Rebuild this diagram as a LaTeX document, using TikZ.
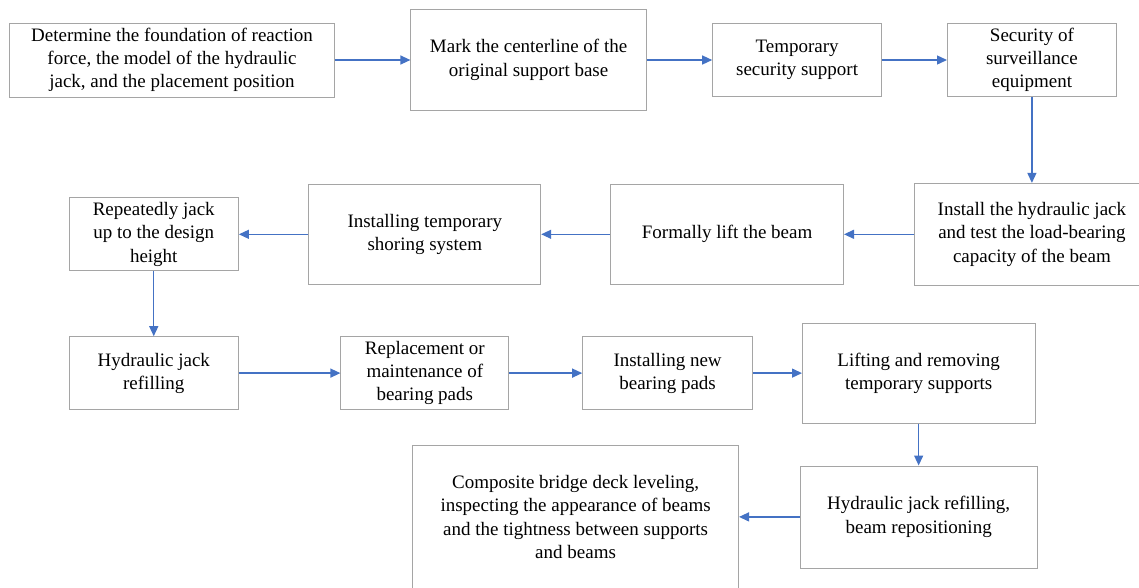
\documentclass[tikz,border=0pt]{standalone}
\usepackage{fontspec}
\setmainfont{Liberation Serif}
\usetikzlibrary{positioning, arrows.meta}
\definecolor{boxgray}{HTML}{A5A5A5}
\definecolor{arrowblue}{HTML}{4472C4}
\tikzstyle{step box} = [rectangle, draw=boxgray, line width=0.8pt, align=center, inner sep=2pt, font=\fontsize{19}{23.3}\selectfont]
\tikzstyle{arrow} = [draw=arrowblue, line width=1.3pt, -{Triangle[length=10pt,width=9pt]}]

\begin{document}
\begin{tikzpicture}[x=1pt, y=1pt]
\clip (0,0) rectangle (1139,-587);

% First row
\node (found) [step box, minimum width=325pt, minimum height=74pt] at (172,-60) {Determine the foundation of reaction\\force, the model of the hydraulic\\jack, and the placement position};
\node (mark) [step box, minimum width=235.6pt, minimum height=101pt, right=75.5pt of found] {Mark the centerline of the\\original support base};
\node (temp) [step box, minimum width=169pt, minimum height=73pt, right=65.4pt of mark] {Temporary\\security support};
\node (secur) [step box, minimum width=169pt, minimum height=73pt, right=65pt of temp] {Security of\\surveillance\\equipment};

% Second row
\node (install) [step box, minimum width=235pt, minimum height=102pt, below=86pt of secur] {Install the hydraulic jack\\and test the load-bearing\\capacity of the beam};
\node (formal) [step box, minimum width=233pt, minimum height=100pt, left=70pt of install] {Formally lift the beam};
\node (shoring) [step box, minimum width=232pt, minimum height=100pt, left=69pt of formal] {Installing temporary\\shoring system};
\node (repeat) [step box, minimum width=169.5pt, minimum height=73pt, left=69.5pt of shoring] {Repeatedly jack\\up to the design\\height};

% Third row
\node (refill) [step box, minimum width=169.5pt, minimum height=73pt, below=65pt of repeat] {Hydraulic jack\\refilling};
\node (replace) [step box, minimum width=168pt, minimum height=73pt, right=101.5pt of refill] {Replacement or\\maintenance of\\bearing pads};
\node (newpads) [step box, minimum width=170pt, minimum height=73pt, right=73pt of replace] {Installing new\\bearing pads};
\node (remove) [step box, minimum width=232.5pt, minimum height=100pt, right=49pt of newpads] {Lifting and removing\\temporary supports};

% Last row
\node (reposit) [step box, minimum width=236.5pt, minimum height=102pt, below=42pt of remove] {Hydraulic jack refilling,\\beam repositioning};
\node (level) [step box, minimum width=326pt, minimum height=143pt, left=61pt of reposit] {Composite bridge deck leveling,\\inspecting the appearance of beams\\and the tightness between supports\\and beams};

% Arrows
\draw [arrow] (found) -- (mark);
\draw [arrow] (mark) -- (temp);
\draw [arrow] (temp) -- (secur);
\draw [arrow] (secur) -- (install);
\draw [arrow] (install) -- (formal);
\draw [arrow] (formal) -- (shoring);
\draw [arrow] (shoring) -- (repeat);
\draw [arrow] (repeat) -- (refill);
\draw [arrow] (refill) -- (replace);
\draw [arrow] (replace) -- (newpads);
\draw [arrow] (newpads) -- (remove);
\draw [arrow] (remove) -- (remove |- reposit.north);
\draw [arrow] (reposit) -- (level);

\end{tikzpicture}
\end{document}
